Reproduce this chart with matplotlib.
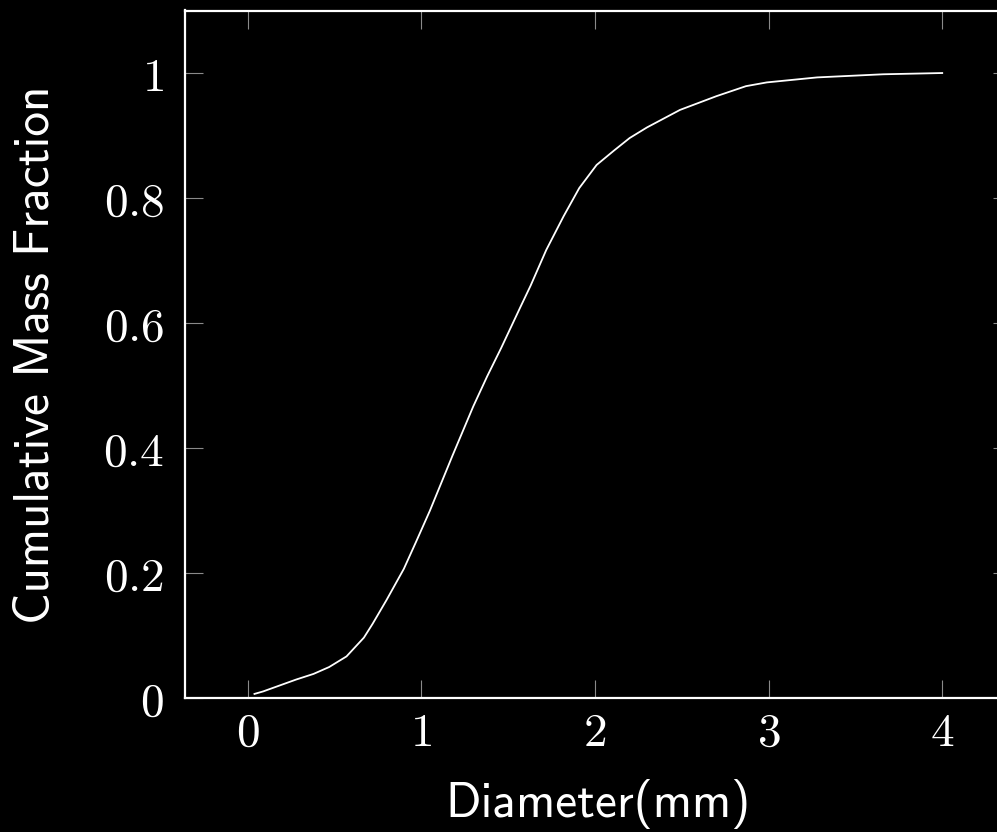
import matplotlib
matplotlib.use("Agg")
import matplotlib.pyplot as plt

diameter_mm = [0.04, 0.09, 0.19, 0.28, 0.38, 0.47, 0.57, 0.67, 0.72, 0.80,
               0.90, 0.97, 1.05, 1.18, 1.30, 1.38, 1.46, 1.57, 1.63, 1.72,
               1.82, 1.91, 2.01, 2.11, 2.20, 2.30, 2.49, 2.70, 2.87, 2.99,
               3.28, 3.66, 4.00]
cum_mass = [0.007, 0.011, 0.021, 0.030, 0.039, 0.050, 0.067, 0.097, 0.119, 0.157,
            0.207, 0.250, 0.300, 0.388, 0.467, 0.515, 0.560, 0.625, 0.660, 0.717,
            0.771, 0.816, 0.853, 0.876, 0.896, 0.913, 0.941, 0.963, 0.979, 0.985,
            0.993, 0.998, 1.000]

xticks = [0, 1, 2, 3, 4]
xticklabels = ["0", "1", "2", "3", "4"]
yticks = [0, 0.2, 0.4, 0.6, 0.8, 1.0]
yticklabels = ["0", "0.2", "0.4", "0.6", "0.8", "1"]

plt.rcParams['mathtext.fontset'] = 'cm'

W, H = 997, 832
fig = plt.figure(figsize=(W/100, H/100), dpi=100, facecolor='black')
left, right, bottom, top = 185, 1011, 698.3, 10.5
ax = fig.add_axes([left/W, (H-bottom)/H, (right-left)/W, (bottom-top)/H])
ax.set_facecolor('black')

ax.plot(diameter_mm, cum_mass, color='white', lw=1.3, solid_joinstyle='round')

ax.set_xlim(-0.36, 4.396)
ax.set_ylim(0, 1.1)

ax.set_xticks(xticks)
ax.set_xticklabels(["$%s$" % t for t in xticklabels])
ax.set_yticks(yticks)
ax.set_yticklabels(["$%s$" % t for t in yticklabels])

for s in ax.spines.values():
    s.set_color('white')
    s.set_linewidth(1.6)

ax.tick_params(which='both', direction='in', length=13, width=0.8, color='#8a8a8a',
               top=True, right=True, labelcolor='white', labelsize=34)
ax.tick_params(axis='x', pad=9)
ax.tick_params(axis='y', pad=15)

ax.set_xlabel("Diameter(mm)", family='cmss10', fontsize=35.5, color='white', labelpad=17)
ax.set_ylabel("Cumulative Mass Fraction", family='cmss10', fontsize=35.5, color='white', labelpad=32)

fig.savefig("out.png", dpi=100, facecolor='black')
